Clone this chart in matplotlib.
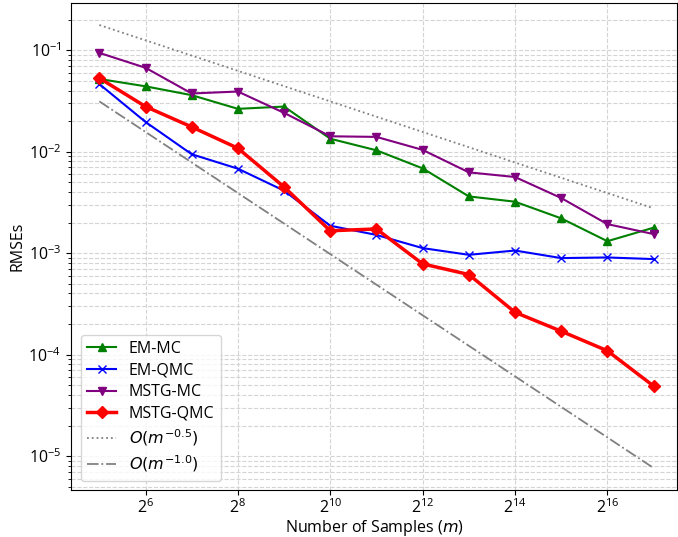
import matplotlib
matplotlib.use("Agg")
import matplotlib.pyplot as plt
import numpy as np

# sample sizes m = 2^5 ... 2^17
exponents = np.arange(5, 18)
m = 2.0 ** exponents

em_mc = [0.052, 0.044, 0.036, 0.0264, 0.0278, 0.0134, 0.0103, 0.00684,
         0.00362, 0.00321, 0.00220, 0.00131, 0.00178]
em_qmc = [0.0463, 0.0196, 0.00942, 0.00679, 0.00412, 0.00186, 0.00151,
          0.00112, 0.000962, 0.00106, 0.000893, 0.000906, 0.000873]
mstg_mc = [0.094, 0.067, 0.0374, 0.0391, 0.0241, 0.01416, 0.01397, 0.0104,
           0.00625, 0.00562, 0.00349, 0.00193, 0.00154]
mstg_qmc = [0.053, 0.0278, 0.0175, 0.0108, 0.00448, 0.00166, 0.00173,
            0.000783, 0.000615, 0.000261, 0.000170, 0.000109, 0.0000490]

rate_half = 0.5
rate_one = 1.0

plt.rcParams.update({
    "font.family": ["Open Sans", "DejaVu Sans"],
    "font.size": 11.5,
    "mathtext.fontset": "dejavusans",
})

fig = plt.figure(figsize=(6.78, 5.37), dpi=100)
ax = fig.add_axes([0.105, 0.087, 0.893, 0.907])

ax.plot(m, em_mc, color="green", marker="^", ms=6, lw=1.5, label="EM-MC")
ax.plot(m, em_qmc, color="blue", marker="x", ms=6, lw=1.5, label="EM-QMC")
ax.plot(m, mstg_mc, color="purple", marker="v", ms=6, lw=1.5, label="MSTG-MC")
ax.plot(m, mstg_qmc, color="red", marker="D", ms=6.5, lw=2.5, label="MSTG-QMC")
ax.plot(m, m ** -rate_half, color="gray", ls=":", lw=1.3, label=r"$O(m^{-0.5})$")
ax.plot(m, m ** -rate_one, color="gray", ls="-.", lw=1.3, label=r"$O(m^{-1.0})$")

ax.set_xscale("log", base=2)
ax.set_yscale("log")
ax.set_xlim(2 ** 4.39, 2 ** 17.5)
ax.set_ylim(4.6e-6, 0.29)
ax.set_xticks([2.0 ** k for k in range(6, 17, 2)])
ax.tick_params(axis="x", pad=2)
ax.grid(True, which="major", ls="--", color="#d4d4d4", lw=0.8)
ax.grid(True, which="minor", axis="y", ls="--", color="#d4d4d4", lw=0.8)

ax.set_xlabel("Number of Samples ($m$)", labelpad=1)
ax.set_ylabel("RMSEs", labelpad=2)
ax.legend(loc="lower left", fontsize=11.5, handlelength=1.8, labelspacing=0.35,
          borderaxespad=0.6)

fig.savefig("out.png", dpi=100)
